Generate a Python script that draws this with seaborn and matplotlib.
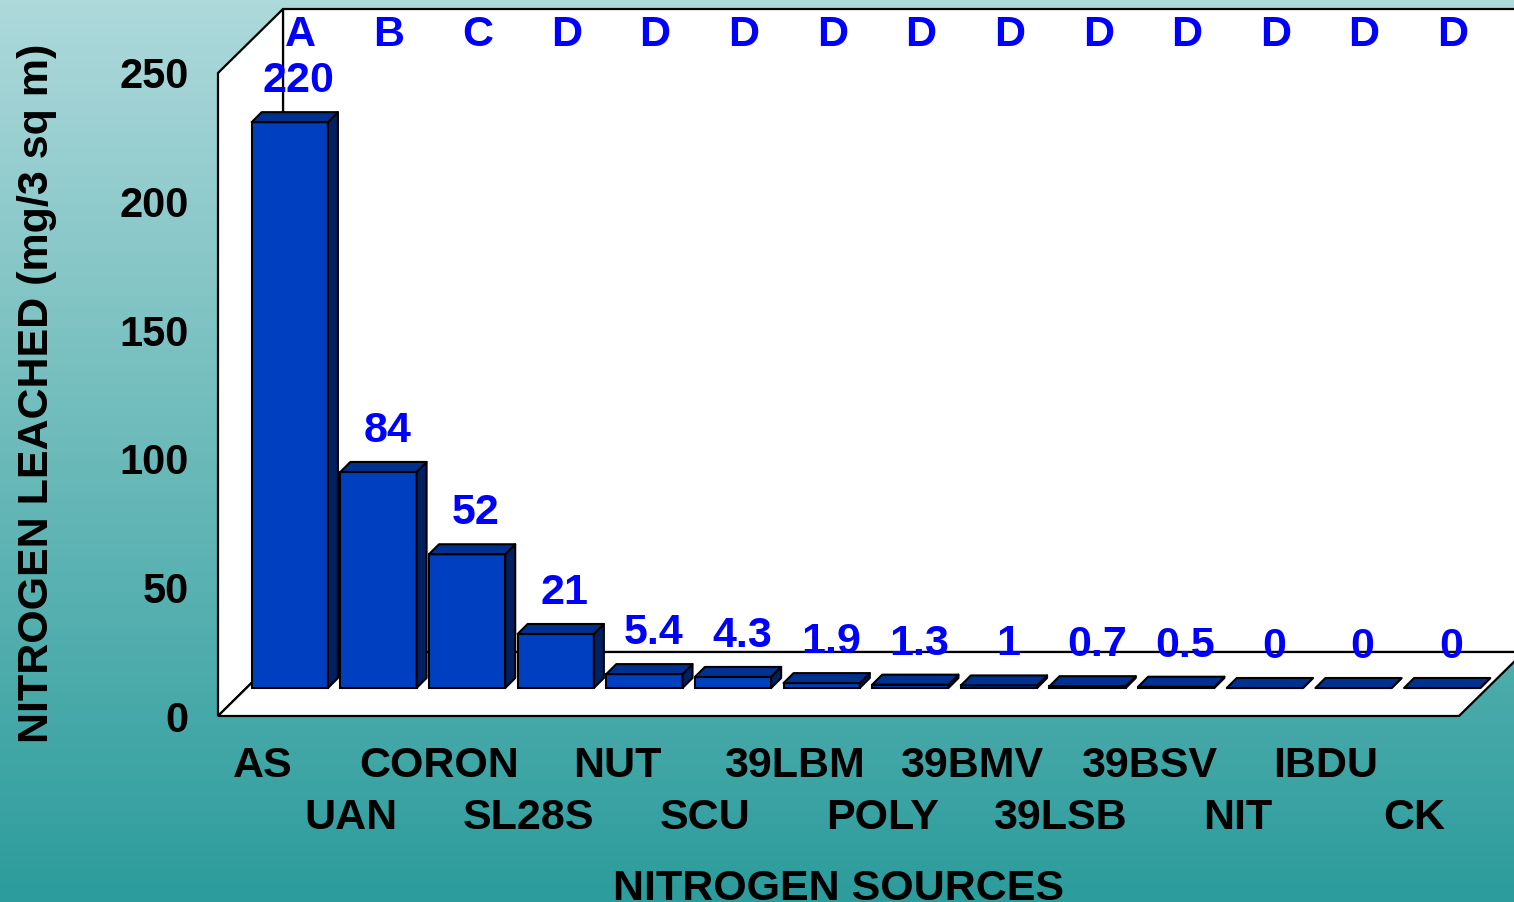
import numpy as np
import pandas as pd
import matplotlib
matplotlib.use("Agg")
import matplotlib.pyplot as plt
import seaborn as sns
from matplotlib.patches import Polygon
from matplotlib.transforms import ScaledTranslation
from matplotlib.colors import LinearSegmentedColormap

# ---- data ----
sources = ["AS", "UAN", "CORON", "SL28S", "NUT", "SCU", "39LBM", "POLY",
           "39BMV", "39LSB", "39BSV", "NIT", "IBDU", "CK"]
leached = [220, 84, 52, 21, 5.4, 4.3, 1.9, 1.3, 1, 0.7, 0.5, 0, 0, 0]
groups = ["A", "B", "C", "D", "D", "D", "D", "D", "D", "D", "D", "D", "D", "D"]
yticks = [0, 50, 100, 150, 200, 250]

# ---- style ----
FRONT = "#0040C0"
TOP = "#003090"
SIDE = "#002062"
LABEL_BLUE = "#0000FF"
FS = 31

sns.set_theme(style="white")
plt.rcParams["font.family"] = ["Liberation Sans", "DejaVu Sans"]
plt.rcParams["font.weight"] = "bold"

W, H = 1514, 902
fig = plt.figure(figsize=(W / 100, H / 100), dpi=100)

# teal gradient backdrop
bg = fig.add_axes([0, 0, 1, 1], zorder=-10)
cmap = LinearSegmentedColormap.from_list(
    "teal", [(0.0, "#2C9C9C"), (0.5, "#6CBABA"), (1.0, "#AED9DB")])
grad = np.linspace(0, 1, 256).reshape(-1, 1)
bg.imshow(grad, aspect="auto", cmap=cmap, origin="lower", extent=[0, 1, 0, 1])
bg.set_axis_off()

# front plane of the 3-D box
ax = fig.add_axes([218 / W, (H - 716) / H, (1459 - 218) / W, (716 - 73) / H])
ax.patch.set_alpha(0)

df = pd.DataFrame({"source": sources, "leached": leached})
sns.barplot(data=df, x="source", y="leached", ax=ax, color=FRONT,
            saturation=1, width=0.86, edgecolor="black", linewidth=1.5,
            errorbar=None, zorder=3)

ax.set_xlim(-0.5, len(sources) - 0.5)
ax.set_ylim(0, 250)
for s in ax.spines.values():
    s.set_visible(False)
ax.set_xlabel("")
ax.set_ylabel("")
ax.set_xticks([])
ax.set_yticks(yticks)
ax.set_yticklabels([str(t) for t in yticks], fontsize=30, fontweight="bold",
                   color="black")
ax.tick_params(axis="y", length=0, pad=21)

# pixel -> data unit conversions
ppx = ax.bbox.width / (len(sources))
ppy = ax.bbox.height / 250.0


def dxu(px):
    return px / ppx


def dyu(px):
    return px / ppy


# walls and floor of the box
wx, wy = dxu(65), dyu(64)
x0, x1 = -0.5, len(sources) - 0.5
wall_kw = dict(facecolor="white", edgecolor="black", linewidth=1.6,
               closed=True, clip_on=False, zorder=1, joinstyle="miter")
ax.add_patch(Polygon([(x0 + wx, wy), (x1 + wx, wy), (x1 + wx, 250 + wy),
                      (x0 + wx, 250 + wy)], **wall_kw))
ax.add_patch(Polygon([(x0, 0), (x0, 250), (x0 + wx, 250 + wy),
                      (x0 + wx, wy)], **wall_kw))
ax.add_patch(Polygon([(x0, 0), (x1, 0), (x1 + wx, wy), (x0 + wx, wy)],
                     **wall_kw))

# bars sit part-way into the box
shift = ax.transData + ScaledTranslation(27.5 / 100, 28 / 100,
                                         fig.dpi_scale_trans)
ddx, ddy = dxu(10), dyu(10)
bars = [p for p in ax.patches if p.get_zorder() == 3]
for p in bars:
    p.set_transform(shift)
    p.set_clip_on(False)
    bx, bw, bh = p.get_x(), p.get_width(), p.get_height()
    face_kw = dict(edgecolor="black", linewidth=1.5, closed=True,
                   clip_on=False, transform=shift, zorder=3,
                   joinstyle="round")
    ax.add_patch(Polygon([(bx + bw, 0), (bx + bw + ddx, ddy),
                          (bx + bw + ddx, bh + ddy), (bx + bw, bh)],
                         facecolor=SIDE, **face_kw))
    ax.add_patch(Polygon([(bx, bh), (bx + bw, bh), (bx + bw + ddx, bh + ddy),
                          (bx + ddx, bh + ddy)], facecolor=TOP, **face_kw))

# value labels and significance letters
for i, (v, g) in enumerate(zip(leached, groups)):
    ax.annotate(f"{v:g}", xy=(i, v), xytext=(26.3, 41.8),
                textcoords="offset points", ha="center", va="baseline",
                color=LABEL_BLUE, fontsize=FS, fontweight="bold", zorder=6,
                annotation_clip=False)
    ax.annotate(g, xy=(i, 250), xytext=(27.4, 19.4),
                textcoords="offset points", ha="center", va="baseline",
                color=LABEL_BLUE, fontsize=FS, fontweight="bold", zorder=6,
                annotation_clip=False)

# staggered category labels
for i, name in enumerate(sources):
    off = -43.9 if i % 2 == 0 else -81.4
    ax.annotate(name, xy=(i, 0), xytext=(0, off), textcoords="offset points",
                ha="center", va="baseline", color="black", fontsize=FS,
                fontweight="bold", annotation_clip=False)

fig.text(838 / W, (H - 900) / H, "NITROGEN SOURCES", ha="center",
         va="baseline", fontsize=FS, fontweight="bold", color="black")
fig.text(37 / W, 1 - 393 / H, "NITROGEN LEACHED (mg/3 sq m)", rotation=90,
         ha="center", va="center", fontsize=FS, fontweight="bold",
         color="black")

fig.savefig("out.png", dpi=100)
